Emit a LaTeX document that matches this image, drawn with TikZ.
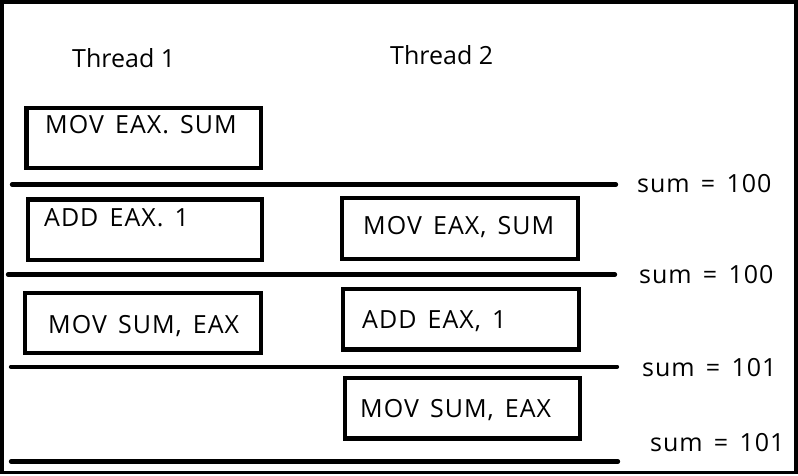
\documentclass[tikz,border=0pt]{standalone}
\usepackage{fontspec}
\setmainfont{Open Sans}
\newfontfamily\opfont{Open Sans}[LetterSpace=4, WordSpace=1.5]
\begin{document}
\begin{tikzpicture}[x=1pt, y=-1pt,
  box/.style = {line width=4.3pt},
  slot/.style = {line width=4.3pt, line cap=round},
  txt/.style = {anchor=base west, inner sep=0pt, font=\fontsize{25}{30}\selectfont},
  op/.style = {txt, font=\opfont\fontsize{25}{30}\selectfont}]
\useasboundingbox (0,0) rectangle (798,475);
\draw[line width=3.5pt] (1.75,1.75) rectangle (796,472.5);
\node[txt] (th1) at (72, 67.7) {Thread 1};
\node[txt] (th2) at (390, 64) {Thread 2};
\draw[box] (26.5,108) rectangle (261,168);
\node[op] (a1) at (45, 133) {MOV EAX. SUM};
\draw[slot] (12,184.5) -- (616,184.5);
\node[op] (s1) at (637, 192) {sum = 100};
\draw[box] (28,199.5) rectangle (262,260);
\node[op] (a2) at (44, 226) {ADD EAX. 1};
\draw[box] (342,198) rectangle (578,259);
\node[op] (b1) at (363, 234) {MOV EAX, SUM};
\draw[slot] (8,274.5) -- (615,274.5);
\node[op] (s2) at (639, 283) {sum = 100};
\draw[box] (25,293) rectangle (261,353);
\node[op] (a3) at (48, 333) {MOV SUM, EAX};
\draw[box] (343,289) rectangle (579,349.5);
\node[op] (b2) at (362, 328) {ADD EAX, 1};
\draw[slot] (11,366.7) -- (617,366.7);
\node[op] (s3) at (642, 376) {sum = 101};
\draw[box] (345,378) rectangle (580,438.5);
\node[op] (b3) at (360, 417) {MOV SUM, EAX};
\draw[slot] (11,461.5) -- (618,461.5);
\node[op] (s4) at (650, 451) {sum = 101};
\end{tikzpicture}
\end{document}
